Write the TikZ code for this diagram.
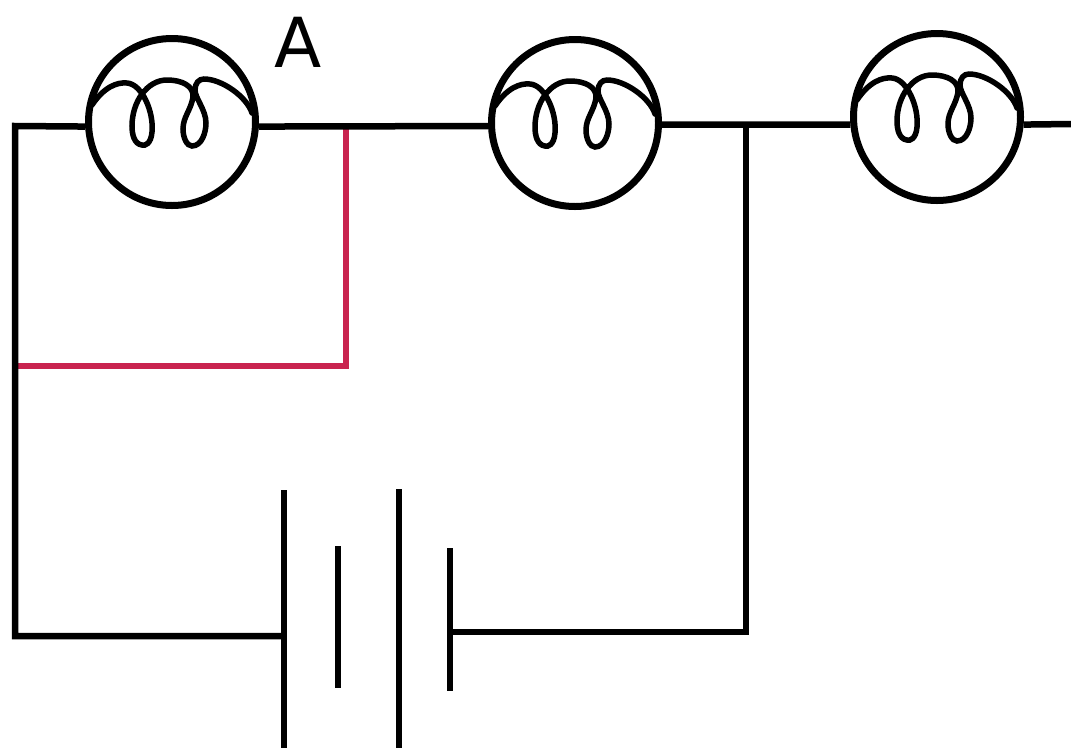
\documentclass[tikz,border=0pt]{standalone}
\usepackage{fontspec}
\setmainfont{DejaVu Sans}
\usepackage{xcolor}
\definecolor{wirered}{HTML}{C9234F}
\tikzstyle{bulb} = [circle, draw=black, line width=7pt, inner sep=0pt, minimum size=167pt]
\tikzstyle{plate} = [rectangle, fill=black, inner sep=0pt, outer sep=0pt, minimum width=6.5pt]
\tikzstyle{wire} = [draw=black, line width=6.5pt, line cap=butt, line join=miter]
\tikzstyle{redwire} = [draw=wirered, line width=6.5pt, line join=miter]
\newcommand{\drawcoil}[1]{
	\begin{scope}[shift={(#1.center)}]
		\draw [black, line width=5.5pt, line cap=round] (-80,-17)
		.. controls (-68,-35) and (-55,-40) .. (-45,-39)
		.. controls (-30,-38) and (-18,-10) .. (-20,10)
		.. controls (-21,22) and (-27,24) .. (-30,23)
		.. controls (-38,22) and (-40,12) .. (-40,4)
		.. controls (-40,-20) and (-25,-42) .. (-5,-42)
		.. controls (10,-42) and (22,-36) .. (21,-25)
		.. controls (19,-12) and (11,-5) .. (11,7)
		.. controls (11,16) and (15,24) .. (20,24)
		.. controls (30,24) and (34,10) .. (34,1)
		.. controls (34,-12) and (23,-24) .. (23,-32)
		.. controls (23,-39) and (27,-43) .. (32,-43)
		.. controls (50,-43) and (75,-25) .. (80,-9);
	\end{scope}
}

\begin{document}
\begin{tikzpicture}[x=1pt, y=-1pt]
		\useasboundingbox (0,0) rectangle (1071,748);
		\node (bulbA) [bulb] at (172,122) {};
		\node (bulbB) [bulb] at (575,123) {};
		\node (bulbC) [bulb] at (937,117) {};
		\drawcoil{bulbA}
		\drawcoil{bulbB}
		\drawcoil{bulbC}
		
		\node (labelA) [inner sep=0pt, font=\fontsize{69}{72}\selectfont] at (298,42) {A};
		
		\node (plateA) [plate, minimum height=258pt] at (284,619) {};
		\node (plateB) [plate, minimum height=142pt] at (338,617) {};
		\node (plateC) [plate, minimum height=259pt] at (399,618.5) {};
		\node (plateD) [plate, minimum height=143pt] at (450,619.5) {};
		
		\coordinate (topleft) at (15,126);
		\coordinate (botleft) at (15,636);
		\coordinate (redtop) at (346,126);
		\coordinate (redcorner) at (346,366);
		\coordinate (redleft) at (15,366);
		\coordinate (junction) at (746,124);
		\coordinate (botright) at (746,632);
		\coordinate (wireend) at (1071,124);
		
		\draw [redwire] (redtop) -- (redcorner) -- (redleft);
		\draw [wire] (bulbA.183) -- (topleft) -- (botleft) -- (botleft -| plateA.west);
		\draw [wire] (bulbA.-3) -- (bulbB.182);
		\draw [wire] (bulbB.-1) -- (bulbC.185);
		\draw [wire] (bulbC.-5) -- (wireend);
		\draw [wire] (junction) -- (botright) -- (botright -| plateD.east);
	\end{tikzpicture}
\end{document}
